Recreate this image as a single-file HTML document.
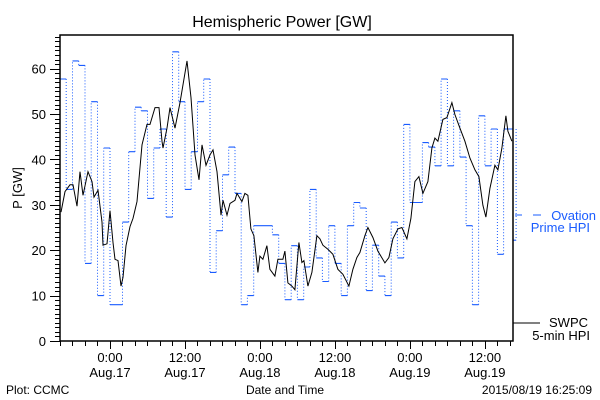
<!DOCTYPE html>
<html><head><meta charset="utf-8"><style>
body{margin:0;background:#fff}
svg{display:block;font-family:"Liberation Sans",sans-serif}
</style></head><body>
<svg id="c" width="600" height="400" xmlns="http://www.w3.org/2000/svg">
<text x="282" y="27" font-size="16" text-anchor="middle">Hemispheric Power [GW]</text>
<text transform="translate(22,188) rotate(-90)" font-size="13" text-anchor="middle">P [GW]</text>
<text x="285" y="394" font-size="12" text-anchor="middle">Date and Time</text>
<text x="6" y="394" font-size="12">Plot: CCMC</text>
<text x="592" y="394" font-size="12" text-anchor="end">2015/08/19 16:25:09</text>
<g>
<line x1="515" y1="215" x2="522" y2="215" stroke="#1a5cff"/>
<line x1="533" y1="215" x2="541" y2="215" stroke="#1a5cff"/>
<text x="596" y="220" font-size="13" fill="#1a5cff" text-anchor="end">Ovation</text>
<text x="590" y="232" font-size="13" fill="#1a5cff" text-anchor="end">Prime HPI</text>
<line x1="513" y1="323" x2="540" y2="323" stroke="#000"/>
<text x="588" y="327" font-size="13" text-anchor="end">SWPC</text>
<text x="590" y="340" font-size="13" text-anchor="end">5-min HPI</text>
</g>
<g id="plot"></g>
</svg>
<script>
const yTickValues=[0,10,20,30,40,50,60];
const xTickHours=[0,12,24,36,48,60];
const xTickTimes=["0:00","12:00","0:00","12:00","0:00","12:00"];
const xTickDates=["Aug.17","Aug.17","Aug.18","Aug.18","Aug.19","Aug.19"];
// Ovation Prime hourly values starting at -8 h (Aug.16 16:00)
const ovationStart=-8;
const ovationValues=[57.7,33.4,61.7,60.7,17.1,52.7,10,42.5,8,8,26.2,41.7,51.5,50.7,31.4,42.5,46.7,27.3,63.7,52.7,33.4,41.7,52.7,57.7,15.1,24.3,36.6,42.7,32.5,8,10,25.4,25.4,25.4,23.4,17.1,9.1,21,9.1,16.3,33.4,18.3,13.1,25.4,17.1,10,25.4,30.5,29.3,11.1,21.1,14.3,10,26.2,18.3,47.7,30.5,30.5,43.7,42.7,38.6,57.7,38.6,50.7,40.5,25.4,8,49.6,38.6,46.7,19.1,46.7,46.7,22.2];
// SWPC 5-min HPI (hours from Aug.17 0:00, GW)
const swpcHours=[-7.84,-7.2,-6.4,-5.92,-5.28,-4.8,-4.32,-3.52,-2.88,-2.56,-1.92,-1.28,-1.12,-0.48,0,0.48,0.8,1.28,1.76,2.08,2.56,3.2,3.68,4.32,5.12,5.92,6.4,7.2,7.84,8.32,8.48,9.12,9.6,10.4,11.2,12.32,12.96,13.6,14.24,14.72,15.36,16,16.48,17.12,17.76,18.08,18.72,19.2,20,20.32,21.12,21.6,22.08,22.56,23.04,23.68,24,24.48,25.12,25.6,26.4,26.88,27.68,28,28.48,29.12,29.6,30.24,30.72,31.04,31.68,32.32,33.12,33.6,34.08,34.88,35.68,36.48,37.28,38.24,38.88,39.52,40,40.8,41.28,42.08,42.88,44,44.64,45.28,46.08,46.72,47.52,48.16,48.8,49.44,50.08,50.88,51.52,52,52.48,53.28,53.92,54.72,55.2,56,56.8,57.6,58.4,59.04,59.68,60.16,60.8,61.6,62.08,62.72,63.36,63.68,64.32];
const swpcValues=[28.4,32.9,34.4,34.4,29.7,37.3,32.1,37.3,35.1,31.7,33.2,26.2,21.1,21.4,28.7,21.7,18,17.7,12.1,14,21,25.2,27,30.7,43.2,47.7,47.7,51.4,51.4,44,42.5,46.9,51.4,46.9,52.5,61.7,53.6,41,35.5,43.2,38.7,41,42.1,37.3,27.7,31,27.7,30.3,31,32.5,30.7,32.5,32.1,24.7,23.2,15.1,18.7,18,21,15.8,14.3,18,18,19.8,12.8,12.1,11.3,21.7,17.3,17.7,12.1,15.1,23.2,22.5,21.1,20.2,19.1,15.8,14.7,12.1,15.8,18.4,19.5,23.2,25,22.8,19.8,17.2,18.4,22.5,24.7,25,22.5,27,35.1,36.2,32.5,35.1,42.5,44.7,44,48.8,49.2,52.5,49.9,46.9,44,40.3,37.7,36.2,29.9,27.3,33.6,38.7,37.7,42.5,49.6,46.2,44];

const NS="http://www.w3.org/2000/svg";
const X0=60,X1=513,Y0=341,Y1=35,T0=-8,T1=64.5,V0=0,V1=67.4;
function xs(t){return X0+(t-T0)/(T1-T0)*(X1-X0);}
function ys(v){return Y0-(v-V0)/(V1-V0)*(Y0-Y1);}
const g=document.getElementById('plot');
function mk(tag,attrs){const e=document.createElementNS(NS,tag);for(const k in attrs)e.setAttribute(k,attrs[k]);g.appendChild(e);return e;}

let d="";
for(let i=0;i<ovationValues.length;i++){
  const t0=ovationStart+i,t1=Math.min(ovationStart+i+1,T1);
  const y=ys(ovationValues[i]);
  d+="M"+xs(t0).toFixed(1)+" "+y.toFixed(1)+"H"+xs(t1).toFixed(1);
}
const ov=mk('path',{d:d,stroke:'#1a5cff','stroke-width':1.1,fill:'none'});


let dv="";
for(let i=1;i<ovationValues.length;i++){
  const x=xs(ovationStart+i);
  dv+="M"+x.toFixed(1)+" "+ys(ovationValues[i-1]).toFixed(1)+"V"+ys(ovationValues[i]).toFixed(1);
}
const ovv=mk('path',{d:dv,stroke:'#1a5cff','stroke-width':1,fill:'none','stroke-dasharray':'1 2'});



let ds="";
for(let i=0;i<swpcHours.length;i++){ds+=(i?"L":"M")+xs(swpcHours[i]).toFixed(1)+" "+ys(swpcValues[i]).toFixed(1);}
const sw=mk('path',{d:ds,stroke:'#000','stroke-width':1,fill:'none'});



const fr=mk('path',{d:`M${X0} ${Y1}H${X1}V${Y0}H${X0}Z`,stroke:'#000','stroke-width':1.5,fill:'none'});



let dt="";
for(let v=0;v<=67;v++){const y=Math.round(ys(v))+0.5;dt+=`M${X0-(v%10===0?10:5)} ${y}H${X0}`;}
for(let t=-8;t<=64;t+=2){const x=Math.round(xs(t))+0.5;dt+=`M${x} ${Y0}V${Y0+(t%12===0?8:5)}`;}
const tk=mk('path',{d:dt,stroke:'#000','stroke-width':1,fill:'none'});



yTickValues.forEach(v=>{
  const t=mk('text',{x:46,y:ys(v)+5,'font-size':13,'text-anchor':'end'});
  t.textContent=String(v);
  
  
});
xTickHours.forEach((h,i)=>{
  const t=mk('text',{x:xs(h),y:362,'font-size':13,'text-anchor':'middle'});
  t.textContent=xTickTimes[i];
  
  
  const t2=mk('text',{x:xs(h),y:377,'font-size':13,'text-anchor':'middle'});
  t2.textContent=xTickDates[i];
  
  
});
</script>
</body></html>
